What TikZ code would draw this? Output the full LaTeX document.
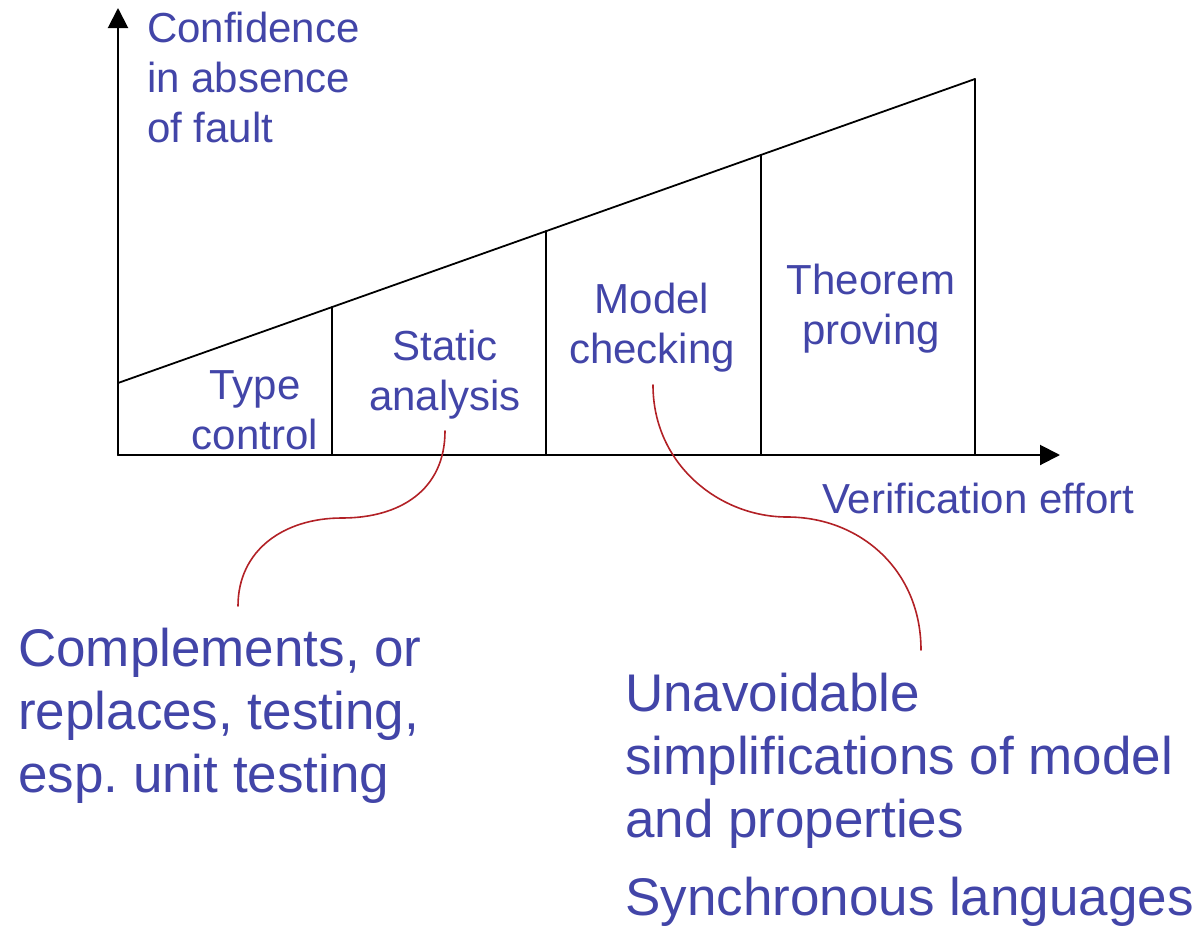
\documentclass[tikz,border=0pt]{standalone}
\usepackage{fontspec}
\setmainfont{Liberation Sans}
\usetikzlibrary{arrows.meta}
\definecolor{txtblue}{rgb}{0.26,0.27,0.66}
\definecolor{curvered}{rgb}{0.70,0.13,0.15}
\frenchspacing

\begin{document}
\begin{tikzpicture}[line cap=round,line join=round,x=1pt,y=-1pt,
  >={Triangle[length=20pt,width=20pt]},
  lbl/.style={text=txtblue,inner sep=0pt,font=\fontsize{42}{50}\selectfont},
  bigLbl/.style={text=txtblue,inner sep=0pt,font=\fontsize{53}{63}\selectfont},
  link/.style={draw=curvered,line width=1.6pt}]
\useasboundingbox (0,0) rectangle (1203,926);
% axes
\coordinate (O) at (118,455);
\draw [line width=2pt,->] (O) -- (118,8);
\draw [line width=2pt,->] (O) -- (1060,455);
% rising line and columns
\draw [line width=1.8pt] (118,383) -- (975,79);
\draw [line width=1.8pt] (332,455) -- (332,307);
\draw [line width=1.8pt] (546,455) -- (546,231);
\draw [line width=1.8pt] (761,455) -- (761,155);
\draw [line width=1.8pt] (975,455) -- (975,79);
% labels (base = last line)
\node (conf) [lbl,anchor=base west,align=left] at (147,142) {Confidence\\in absence\\of fault};
\node (type) [lbl,anchor=base,align=center] at (255,449) {Type\\control};
\node (static) [lbl,anchor=base,align=center] at (445,410) {Static\\analysis};
\node (model) [lbl,anchor=base,align=center] at (652,363) {Model\\checking};
\node (theorem) [lbl,anchor=base,align=center] at (871,344) {Theorem\\proving};
\node (effort) [lbl,anchor=base west] at (822,513) {Verification effort};
\node (compl) [bigLbl,anchor=base west,align=left] at (18,792) {Complements, or\\replaces, testing,\\esp. unit testing};
\node (simpl) [bigLbl,anchor=base west,align=left] at (625,837) {Unavoidable\\simplifications of model\\and properties};
\node (sync) [bigLbl,anchor=base west] at (625,915) {Synchronous languages};
% links from columns to comments
\coordinate (staticEnd) at (445,431);
\coordinate (complEnd) at (238,606);
\coordinate (modelEnd) at (653,385);
\coordinate (simplEnd) at (921,650);
\draw [link] (staticEnd) .. controls (445,490) and (400,518) .. (342,518)
  .. controls (284,518) and (238,550) .. (complEnd);
\draw [link] (modelEnd) .. controls (653,465) and (720,517) .. (787,517)
  .. controls (860,517) and (921,570) .. (simplEnd);
\end{tikzpicture}
\end{document}
